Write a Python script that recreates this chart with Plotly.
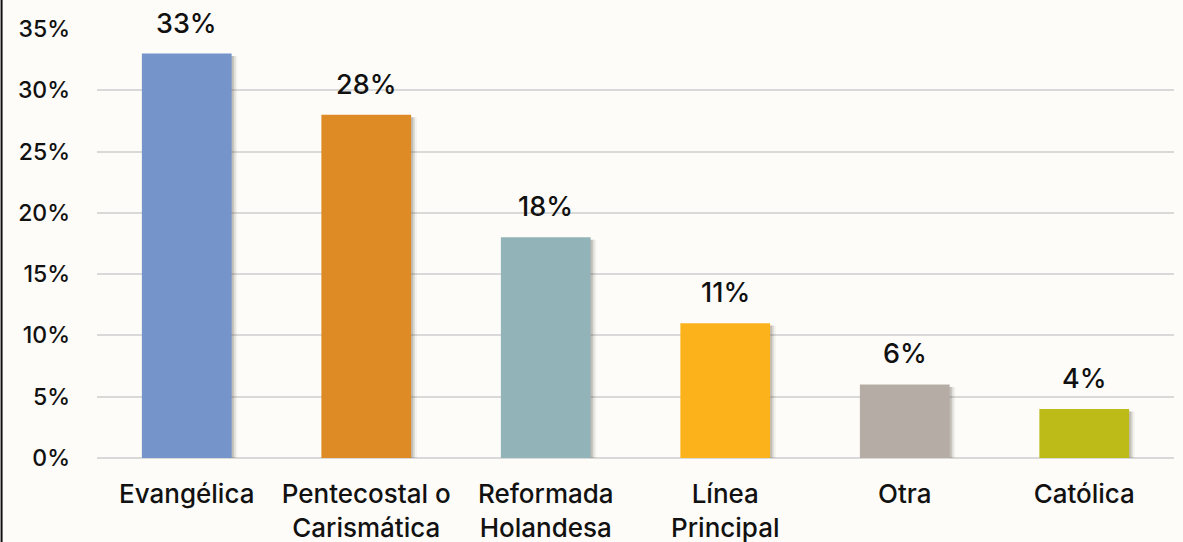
import plotly.graph_objects as go

# categories and values
categories = ['Evangélica', 'Pentecostal o<br>Carismática', 'Reformada<br>Holandesa',
              'Línea<br>Principal', 'Otra', 'Católica']
values = [33, 28, 18, 11, 6, 4]
labels = ['33%', '28%', '18%', '11%', '6%', '4%']
colors = ['#7594C9', '#DE8A25', '#92B4B8', '#FBB21B', '#B5ADA5', '#BDBB17']
tick_vals = [0, 5, 10, 15, 20, 25, 30, 35]
tick_text = ['0%', '5%', '10%', '15%', '20%', '25%', '30%', '35%']

FONT = 'Inter'
BG = '#FDFCF8'
INK = '#111111'

fig = go.Figure()

# soft drop shadow behind each bar
for off, op in [(0.012, 0.18), (0.022, 0.10), (0.032, 0.05)]:
    fig.add_trace(go.Bar(
        x=categories, y=[v + 0.05 for v in values], base=-0.25,
        width=0.5, offset=-0.25 + off,
        marker=dict(color='rgba(60,50,40,%s)' % op, line=dict(width=0)),
        hoverinfo='skip', showlegend=False,
    ))

fig.add_trace(go.Bar(
    x=categories, y=values,
    width=0.5,
    marker=dict(color=colors, line=dict(width=0)),
    showlegend=False,
))

for c, v, t in zip(categories, values, labels):
    fig.add_annotation(x=c, y=v, text=t, showarrow=False, yanchor='bottom',
                       yshift=12, font=dict(family=FONT, size=27, color=INK, weight=500))

# thin black frame on the left edge
fig.add_shape(type='line', xref='paper', yref='paper',
              x0=-0.0886, x1=-0.0886, y0=-0.2, y1=1.1,
              line=dict(color=INK, width=2))

fig.update_layout(
    width=1183, height=542,
    margin=dict(l=97, r=9, t=29, b=84),
    paper_bgcolor=BG, plot_bgcolor=BG,
    barmode='overlay',
    font=dict(family=FONT, size=22, color=INK),
)
fig.update_xaxes(
    showgrid=False, showline=False, zeroline=False, automargin=False,
    tickfont=dict(family=FONT, size=26, color=INK, weight=500),
    ticklabelstandoff=18,
)
fig.update_yaxes(
    range=[0, 35], tickvals=tick_vals, ticktext=tick_text,
    showgrid=True, gridcolor='#D9D9D9', gridwidth=2,
    zeroline=True, zerolinecolor='#D9D9D9', zerolinewidth=2,
    showline=False, automargin=False,
    tickfont=dict(family=FONT, size=23, color=INK, weight=500),
    ticklabelstandoff=26,
)

fig.write_html('out.html', config={'displayModeBar': False},
               post_script="document.body.style.margin='0';")
